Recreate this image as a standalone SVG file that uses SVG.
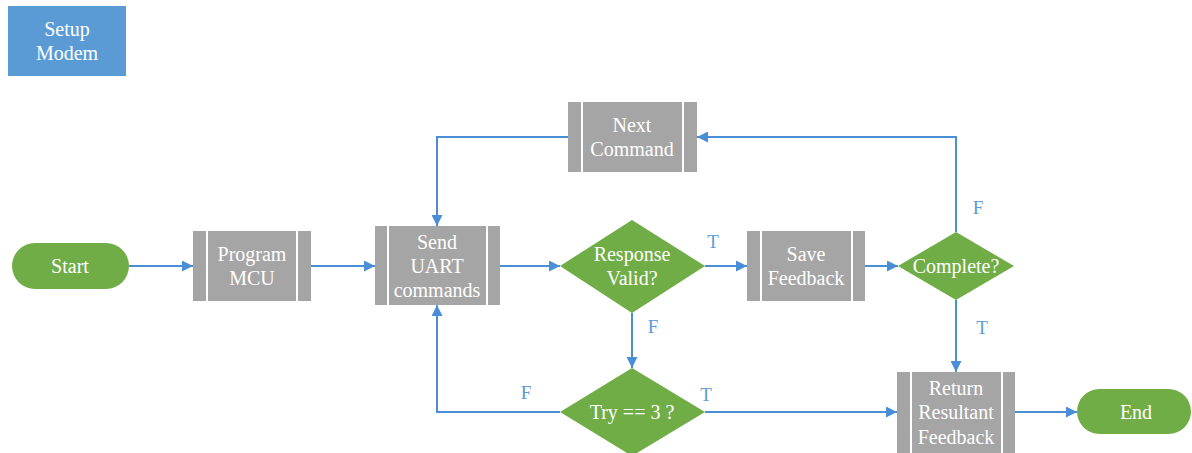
<svg xmlns="http://www.w3.org/2000/svg" width="1192" height="453" viewBox="0 0 1192 453">
<defs>
<style>
text{font-family:"Liberation Serif","Times New Roman",serif;font-size:20px;text-anchor:middle;dominant-baseline:central}
.w{fill:#ffffff}
.lbl{fill:#5b9bd5;font-size:19px}
.proc{fill:#a5a5a5}
.bar{stroke:#ffffff;stroke-width:2;fill:none}
.term{fill:#70ad47}
.dec{fill:#70ad47}
.edge{stroke:#4a8fd6;stroke-width:2;fill:none;marker-end:url(#ah)}
</style>
<marker id="ah" viewBox="0 0 10 10" refX="10" refY="5" markerWidth="5.5" markerHeight="5.5" orient="auto" markerUnits="strokeWidth">
<path d="M0,0 L10,5 L0,10 z" fill="#4a8fd6"/>
</marker>
</defs>
<g id="setup-modem">
<rect x="8" y="6" width="118" height="70" fill="#5b9bd5"/>
<text class="w" x="67" y="29">Setup</text>
<text class="w" x="67" y="53">Modem</text>
</g>
<g id="start">
<rect class="term" x="12" y="243" width="117" height="46" rx="23"/>
<text class="w" x="70" y="266">Start</text>
</g>
<g id="program-mcu">
<rect class="proc" x="193" y="231" width="118" height="70"/>
<line class="bar" x1="207" y1="231" x2="207" y2="301"/>
<line class="bar" x1="297" y1="231" x2="297" y2="301"/>
<text class="w" x="252" y="254">Program</text>
<text class="w" x="252" y="278">MCU</text>
</g>
<g id="send-uart">
<rect class="proc" x="375" y="226" width="125" height="79"/>
<line class="bar" x1="388" y1="226" x2="388" y2="305"/>
<line class="bar" x1="487" y1="226" x2="487" y2="305"/>
<text class="w" x="437" y="242">Send</text>
<text class="w" x="437" y="266">UART</text>
<text class="w" x="437" y="290">commands</text>
</g>
<g id="response-valid">
<polygon class="dec" points="632,220 705,266 632,313 560,266"/>
<text class="w" x="632" y="254">Response</text>
<text class="w" x="632" y="278">Valid?</text>
</g>
<g id="save-feedback">
<rect class="proc" x="747" y="231" width="118" height="70"/>
<line class="bar" x1="761" y1="231" x2="761" y2="301"/>
<line class="bar" x1="852" y1="231" x2="852" y2="301"/>
<text class="w" x="806" y="254">Save</text>
<text class="w" x="806" y="278">Feedback</text>
</g>
<g id="complete">
<polygon class="dec" points="956,232 1014,266 956,300 898,266"/>
<text class="w" x="956" y="266">Complete?</text>
</g>
<g id="next-command">
<rect class="proc" x="568" y="102" width="129" height="70"/>
<line class="bar" x1="582" y1="102" x2="582" y2="172"/>
<line class="bar" x1="683" y1="102" x2="683" y2="172"/>
<text class="w" x="632" y="125">Next</text>
<text class="w" x="632" y="149">Command</text>
</g>
<g id="try-3">
<polygon class="dec" points="632,368 705,412 632,456 560,412"/>
<text class="w" x="632" y="412">Try == 3 ?</text>
</g>
<g id="return-feedback">
<rect class="proc" x="897" y="372" width="118" height="82"/>
<line class="bar" x1="911" y1="372" x2="911" y2="454"/>
<line class="bar" x1="1002" y1="372" x2="1002" y2="454"/>
<text class="w" x="956" y="388">Return</text>
<text class="w" x="956" y="412">Resultant</text>
<text class="w" x="956" y="437">Feedback</text>
</g>
<g id="end">
<rect class="term" x="1077" y="389" width="114" height="45" rx="22.5"/>
<text class="w" x="1136" y="412">End</text>
</g>
<g id="connectors">
<path class="edge" d="M129,266 H193"/>
<path class="edge" d="M311,266 H375"/>
<path class="edge" d="M500,266 H560"/>
<path class="edge" d="M705,266 H747"/>
<path class="edge" d="M865,266 H898"/>
<path class="edge" d="M956,232 V137 H697"/>
<path class="edge" d="M568,137 H437 V226"/>
<path class="edge" d="M632,313 V368"/>
<path class="edge" d="M560,412 H437 V305"/>
<path class="edge" d="M705,412 H897"/>
<path class="edge" d="M956,300 V372"/>
<path class="edge" d="M1015,412 H1077"/>
<text class="lbl" x="713" y="241">T</text>
<text class="lbl" x="978" y="207">F</text>
<text class="lbl" x="653" y="326">F</text>
<text class="lbl" x="982" y="327">T</text>
<text class="lbl" x="526" y="392">F</text>
<text class="lbl" x="706" y="394">T</text>
</g>
</svg>
